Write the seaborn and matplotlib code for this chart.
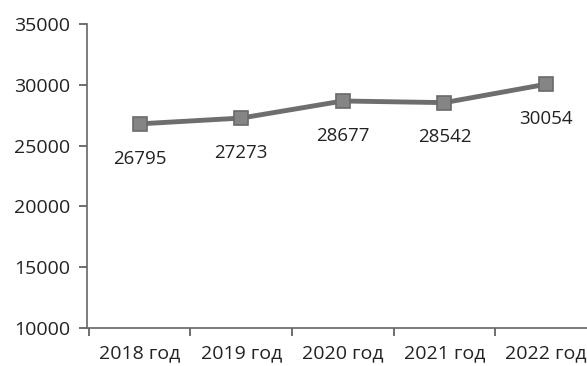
import pandas as pd
import matplotlib
matplotlib.use("Agg")
import matplotlib.pyplot as plt
import seaborn as sns

# data
years = ["2018 год", "2019 год", "2020 год", "2021 год", "2022 год"]
values = [26795, 27273, 28677, 28542, 30054]
y_ticks = [10000, 15000, 20000, 25000, 30000, 35000]

df = pd.DataFrame({"year": years, "value": values})

sns.set_style("white")
plt.rcParams["font.family"] = ["Open Sans", "DejaVu Sans"]

fig = plt.figure(figsize=(5.87, 3.66), dpi=100)
ax = fig.add_axes([0.148, 0.104, 0.86, 0.830])

line_col = "#6e6e6e"
sns.lineplot(data=df, x="year", y="value", ax=ax, color=line_col, linewidth=3.5,
             marker="s", markersize=10, markerfacecolor="#858585",
             markeredgecolor="#6a6a6a", markeredgewidth=1.2)

# value labels under each point
for i, v in enumerate(values):
    ax.annotate(str(v), (i, v), xytext=(0, -25), textcoords="offset points",
                ha="center", va="center", fontsize=13.5, color="#222222")

ax.set_ylim(10000, 35000)
ax.set_yticks(y_ticks)
ax.set_yticklabels([str(t) for t in y_ticks], fontsize=14, color="#222222")
ax.set_xlim(-0.52, 4.45)
ax.set_xticks(range(len(years)))
ax.set_xticklabels(years, fontsize=14, color="#222222")
ax.set_xticks([-0.5, 0.5, 1.5, 2.5, 3.5], minor=True)
ax.tick_params(axis="x", which="major", bottom=True, length=0, pad=12)
ax.tick_params(axis="x", which="minor", bottom=True, length=6, color="#555555", width=1.2, direction="out")
ax.tick_params(axis="y", left=True, length=6, color="#555555", width=1.2, direction="out", pad=6)
ax.set_xlabel("")
ax.set_ylabel("")

for s in ["top", "right"]:
    ax.spines[s].set_visible(False)
for s in ["left", "bottom"]:
    ax.spines[s].set_color("#666666")
    ax.spines[s].set_linewidth(1.2)

fig.savefig("out.png", dpi=100, facecolor="white")
